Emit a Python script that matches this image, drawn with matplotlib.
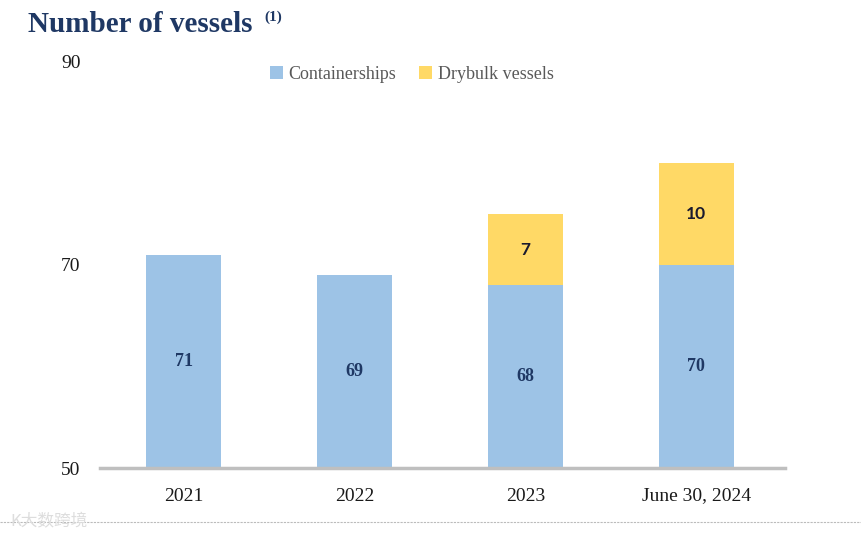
import matplotlib
matplotlib.use('Agg')
from matplotlib import pyplot as plt

categories = ['2021', '2022', '2023', 'June 30, 2024']
containerships = [71, 69, 68, 70]
drybulk = [0, 0, 7, 10]
y_ticks = [50, 70, 90]

blue = '#9DC3E6'
yellow = '#FFD966'
navy = '#1F3864'

plt.rcParams['font.family'] = ['Liberation Serif', 'DejaVu Serif']

fig = plt.figure(figsize=(8.62, 5.38), dpi=100)
ax = fig.add_axes([0.116, 0.130, 0.795, 0.755])

x = list(range(len(categories)))
base = y_ticks[0]
cont_heights = [c - base for c in containerships]
ax.bar(x, cont_heights, bottom=base, width=0.44, color=blue, label='Containerships', zorder=2)
dry_bottoms = containerships
ax.bar(x, drybulk, bottom=dry_bottoms, width=0.44, color=yellow, label='Drybulk vessels', zorder=2)

for i in x:
    ax.text(i, (base + containerships[i]) / 2, str(containerships[i]), ha='center', va='center',
            fontsize=13, fontweight='bold', color=navy)
    if drybulk[i]:
        ax.text(i, containerships[i] + drybulk[i] / 2, str(drybulk[i]), ha='center', va='center',
                fontsize=12.5, fontweight='bold', color='#1a1a2e', family=['Lato', 'DejaVu Sans'])

ax.set_ylim(50, 90)
ax.set_xlim(-0.49, 3.52)
ax.set_yticks(y_ticks)
ax.set_xticks(x)
ax.set_xticklabels(categories)
ax.tick_params(axis='both', length=0, labelsize=14, colors='#1a1a1a')
ax.tick_params(axis='y', pad=14)
ax.tick_params(axis='x', pad=14)
for side in ['top', 'right', 'left']:
    ax.spines[side].set_visible(False)
ax.spines['bottom'].set_color('#BFBFBF')
ax.spines['bottom'].set_linewidth(2.5)
ax.spines['bottom'].set_zorder(3)

leg = ax.legend(loc='upper center', bbox_to_anchor=(0.455, 1.03), ncol=2, frameon=False,
                fontsize=13, handlelength=0.7, handleheight=0.7, handletextpad=0.3,
                columnspacing=1.3)
for t in leg.get_texts():
    t.set_color('#595959')

fig.text(0.032, 0.955, 'Number of vessels', fontsize=21, fontweight='bold', color=navy,
         va='center', ha='left')
fig.text(0.307, 0.968, '(1)', fontsize=11, fontweight='bold', color=navy, va='center', ha='left')

# watermark and dashed footer line
fig.add_artist(plt.Line2D([0.0, 1.0], [0.030, 0.030], color='#BBBBBB', linestyle=(0, (2, 1)),
                          linewidth=0.8))
fig.text(0.012, 0.030, 'K大数跨境', fontsize=12, color='#DDDDDD', va='center', ha='left',
         family=['Noto Sans CJK SC', 'DejaVu Sans'])

fig.savefig('out.png', dpi=100, facecolor='white')
